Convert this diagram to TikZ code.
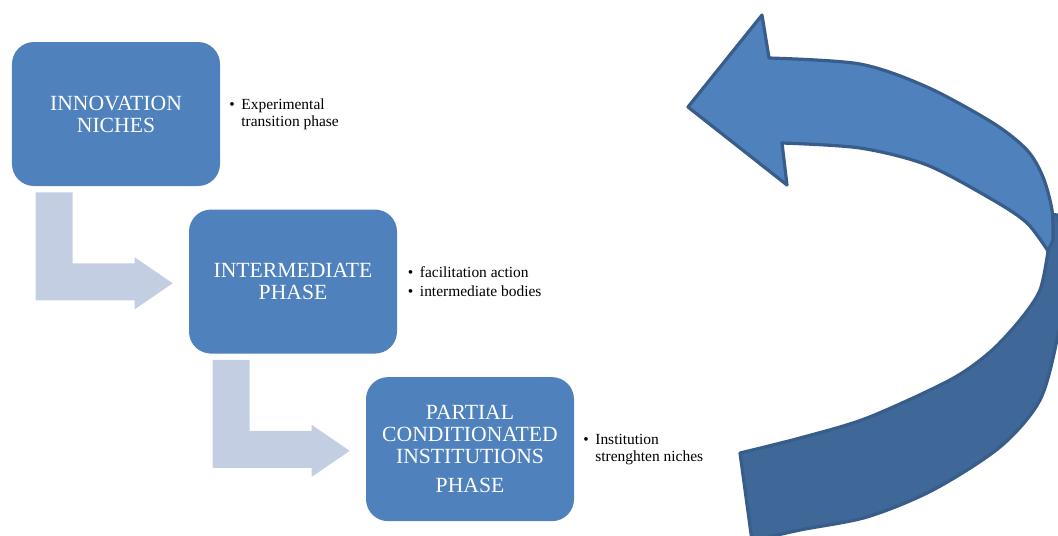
\documentclass[tikz,border=0pt]{standalone}
\usepackage{fontspec}
\setmainfont{Liberation Serif}
\usetikzlibrary{positioning}

\definecolor{boxblue}{HTML}{4F81BD}
\definecolor{edgeblue}{HTML}{385D8A}
\definecolor{backblue}{HTML}{3F6797}
\definecolor{stepgrey}{HTML}{C4CEE2}

\newcommand{\bul}{\makebox[3mm][l]{\textbullet}}
\newcommand{\bulpad}{\makebox[3mm]{}}

\begin{document}
\begin{tikzpicture}[
  x=0.25mm, y=-0.25mm,
  node distance=5.75mm and 2.2mm,
  phase/.style={fill=boxblue, rounded corners=5.5mm, minimum width=52mm,
    minimum height=36mm, align=center, text=white,
    font=\fontsize{15.4}{15.6}\selectfont},
  note/.style={align=left, inner sep=0pt, font=\fontsize{11}{12}\selectfont},
  larrow/.style={fill=stepgrey},
  band/.style={draw=edgeblue, line width=0.8mm, line join=round}
]
\useasboundingbox (0,0) rectangle (1058,535);

% phases
\node[phase] (niches) at (116,114) {INNOVATION\\NICHES};
\node[phase, below=of niches, xshift=44.25mm] (inter) {INTERMEDIATE\\PHASE};
\node[phase, below=of inter, xshift=44.25mm] (partial)
  {PARTIAL\\CONDITIONATED\\INSTITUTIONS\\[5pt]PHASE};

% notes
\node[note, right=of niches] (nichesnote) {\bul Experimental\\\bulpad transition phase};
\node[note, right=2.6mm of inter] (internote) {\bul facilitation action\\[2pt]\bul intermediate bodies};
\node[note, right=of partial] (partialnote) {\bul Institution\\\bulpad strenghten niches};

% step arrows
\foreach \a in {niches, inter}
  \fill[larrow] ([shift={(24,6)}]\a.south west) -- ++(37,0) -- ++(0,71)
    -- ++(62,0) -- ++(0,-6) -- ++(38,26) -- ++(-38,26) -- ++(0,-9)
    -- ++(-99,0) -- cycle;

% feedback arrow
\begin{scope}
\clip (0,0) rectangle (1058,535);
\filldraw[band, fill=backblue]
  plot[smooth] coordinates {(1048,251) (1040,290) (1020,320) (990,352)
    (950,380) (867,418) (800,438) (740,453)}
  -- (752,541)
  -- plot[smooth] coordinates {(752,541) (800,530) (867,517) (933,490)
    (1000,447) (1040,400) (1058,335) (1066,278) (1058,215)}
  -- (1046,214) -- cycle;
\filldraw[band, fill=boxblue]
  (688,107) -- (762,15) -- (769,58)
  -- plot[smooth] coordinates {(769,58) (860,64) (927,87) (993,123)
    (1027,150) (1043,177) (1052,210) (1053,240)}
  -- (1048,251)
  -- plot[smooth] coordinates {(1048,251) (1027,223) (993,200) (927,165)
    (860,148) (782,143)}
  -- (787,185) -- cycle;
\end{scope}
\end{tikzpicture}
\end{document}
